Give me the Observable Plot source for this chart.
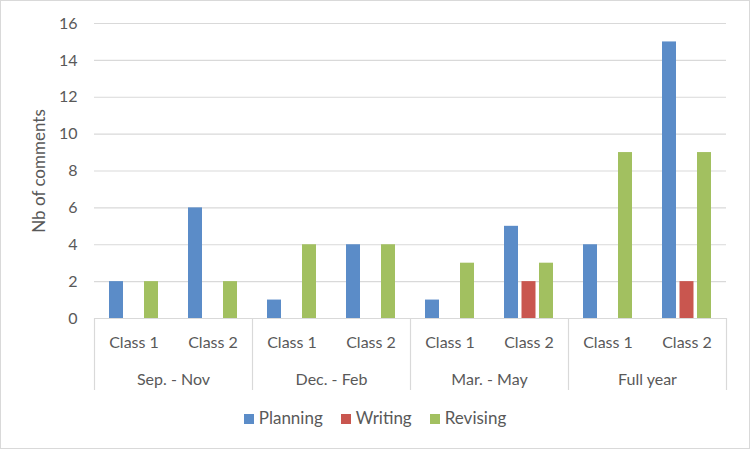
<!DOCTYPE html>
<html>
<head>
<meta charset="utf-8">
<script src="https://cdn.jsdelivr.net/npm/d3@7"></script>
<script src="https://cdn.jsdelivr.net/npm/@observablehq/plot@0.6"></script>
<style>
  body { margin: 0; background: #fff; }
  #wrap { position: relative; width: 750px; height: 449px; font-family: Lato, "Open Sans", sans-serif; color: #595959; }
  #border { position: absolute; left: 0; top: 0; width: 750px; height: 449px; box-sizing: border-box; border: 1px solid #d9d9d9; pointer-events: none; }
  #chart { position: absolute; left: 0; top: 0; }
  #legend { position: absolute; left: 0; top: 408px; width: 750px; text-align: center; font-size: 17px; line-height: 20px; }
  .item { display: inline-block; margin: 0 9px; }
  .sw { display: inline-block; width: 10px; height: 10px; margin-right: 5px; vertical-align: 0px; }
</style>
</head>
<body>
<div id="wrap">
  <div id="chart"></div>
  <div id="legend"></div>
  <div id="border"></div>
</div>
<script>
const periods = ["Sep. - Nov", "Dec. - Feb", "Mar. - May", "Full year"];
const classes = ["Class 1", "Class 2"];
const seriesNames = ["Planning", "Writing", "Revising"];
const seriesColors = ["#5b8cc8", "#c9564f", "#a2c060"];
// values in order: period x class
const planning = [2, 6, 1, 4, 1, 5, 4, 15];
const writing  = [0, 0, 0, 0, 0, 2, 0, 2];
const revising = [2, 2, 4, 4, 3, 3, 9, 9];
const yTicks = [0, 2, 4, 6, 8, 10, 12, 14, 16];

const keys = [];
const cats = [];
periods.forEach(p => classes.forEach(c => { keys.push(p + "|" + c); cats.push({key: p + "|" + c, period: p, cls: c}); }));
const seriesValues = [planning, writing, revising];
const rows = [];
seriesNames.forEach((s, si) => keys.forEach((k, i) => rows.push({key: k, series: s, value: seriesValues[si][i]})));

const W = 750, H = 400, mL = 94, mR = 24, mT = 23, mB = 82;
const bw = (W - mL - mR) / keys.length;
const barW = 14, step = 17.5;
function insets(j) { // j = -1, 0, 1
  const left = bw / 2 + j * step - barW / 2;
  return {insetLeft: left, insetRight: bw - left - barW};
}

const plot = Plot.plot({
  width: W, height: H,
  marginLeft: mL, marginRight: mR, marginTop: mT, marginBottom: mB,
  style: {fontFamily: "Lato, 'Open Sans', sans-serif", fontSize: "16px", color: "#595959", background: "transparent"},
  x: {domain: keys, padding: 0, axis: null},
  y: {domain: [0, 16], ticks: yTicks, tickSize: 0, tickPadding: 17, label: null},
  marks: [
    Plot.ruleY(yTicks, {stroke: "#d9d9d9", strokeWidth: 1.2}),
    ...seriesNames.map((s, si) => Plot.barY(rows.filter(r => r.series === s && r.value > 0), {
      x: "key", y: "value", fill: seriesColors[si], ...insets(si - 1)
    })),
    Plot.ruleX(cats.filter(c => c.cls === "Class 1"), {x: "key", dx: -bw / 2, stroke: "#d9d9d9", strokeWidth: 1.2, insetTop: H - mT - mB, insetBottom: -72}),
    Plot.ruleX([cats[cats.length - 1]], {x: "key", dx: bw / 2, stroke: "#d9d9d9", strokeWidth: 1.2, insetTop: H - mT - mB, insetBottom: -72}),
    Plot.text(cats, {x: "key", text: "cls", frameAnchor: "bottom", dy: 24, lineAnchor: "middle", fill: "#595959", fontSize: 16}),
    Plot.text(cats.filter(c => c.cls === "Class 2"), {x: "key", text: "period", frameAnchor: "bottom", dx: -bw / 2, dy: 61, lineAnchor: "middle", fill: "#595959", fontSize: 16}),
    Plot.text(["Nb of comments"], {frameAnchor: "left", text: d => d, rotate: -90, dx: -55, textAnchor: "middle", lineAnchor: "middle", fontSize: 17, fill: "#595959"})
  ]
});
document.getElementById("chart").appendChild(plot);

const legend = document.getElementById("legend");
seriesNames.forEach((s, i) => {
  const item = document.createElement("span");
  item.className = "item";
  const sw = document.createElement("span");
  sw.className = "sw";
  sw.style.background = seriesColors[i];
  item.appendChild(sw);
  item.appendChild(document.createTextNode(s));
  legend.appendChild(item);
});
</script>
</body>
</html>
